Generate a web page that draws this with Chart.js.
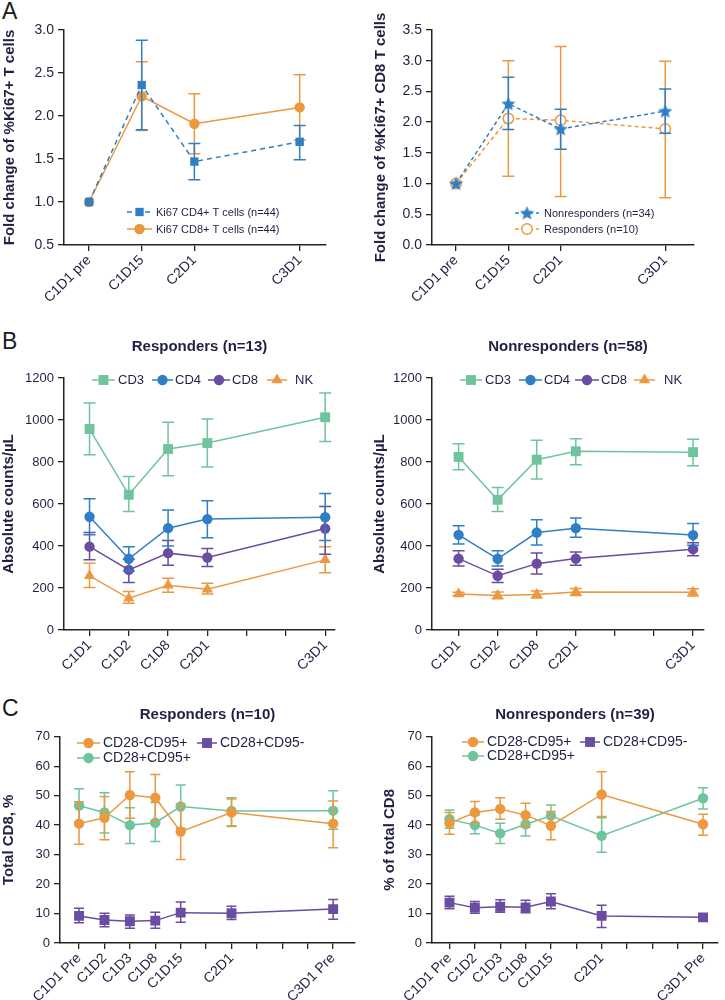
<!DOCTYPE html>
<html><head><meta charset="utf-8">
<script src="https://cdn.jsdelivr.net/npm/chart.js@4.4.1/dist/chart.umd.min.js"></script>
<style>
html,body{margin:0;padding:0;background:#fff;}
#wrap{position:relative;width:725px;height:1000px;overflow:hidden;font-family:'Liberation Sans',Arial,Helvetica,sans-serif;}
#wrap canvas{position:absolute;}
.pl{position:absolute;font-size:23px;line-height:1;color:#1a1a1a;}
</style></head><body>
<div id="wrap">
<div class="pl" style="left:2px;top:0px">A</div>
<div class="pl" style="left:2px;top:330px">B</div>
<div class="pl" style="left:2px;top:697px">C</div>
<canvas id="cA1" width="362" height="320" style="left:0;top:0"></canvas>
<canvas id="cA2" width="363" height="320" style="left:362px;top:0"></canvas>
<canvas id="cB1" width="362" height="370" style="left:0;top:320px"></canvas>
<canvas id="cB2" width="363" height="370" style="left:362px;top:320px"></canvas>
<canvas id="cC1" width="362" height="310" style="left:0;top:690px"></canvas>
<canvas id="cC2" width="363" height="310" style="left:362px;top:690px"></canvas>
</div>
<script>
// ---------------- DATA ----------------
// Panel A (fold change of %Ki67+)
const timeA = [0, 1, 2, 4];
const labelsA = ['C1D1 pre', 'C1D15', 'C2D1', 'C3D1'];
const ticksA = [0, 1, 2, 4];
const ki67CD4 = [1.00, 2.36, 1.47, 1.70];
const ki67CD4Lo = [1.00, 1.84, 1.26, 1.49];
const ki67CD4Hi = [1.00, 2.88, 1.68, 1.89];
const ki67CD8 = [1.00, 2.23, 1.91, 2.10];
const ki67CD8Lo = [1.00, 1.83, 1.56, 1.72];
const ki67CD8Hi = [1.00, 2.63, 2.26, 2.48];
const ki67NonResp = [1.00, 2.30, 1.89, 2.18];
const ki67NonRespLo = [1.00, 1.88, 1.56, 1.82];
const ki67NonRespHi = [1.00, 2.73, 2.21, 2.54];
const ki67Resp = [1.00, 2.06, 2.03, 1.89];
const ki67RespLo = [1.00, 1.12, 0.79, 0.77];
const ki67RespHi = [1.00, 3.00, 3.23, 2.99];

// Panel B (absolute counts/uL)
const timeB = [0, 1, 2, 3, 6];
const labelsB = ['C1D1', 'C1D2', 'C1D8', 'C2D1', 'C3D1'];
const ticksB = [0, 1, 2, 3, 4, 5, 6];
const cd3R = [957, 644, 862, 890, 1013];
const cd3RLo = [835, 564, 735, 776, 898];
const cd3RHi = [1081, 731, 989, 1005, 1129];
const cd4R = [539, 339, 485, 528, 537];
const cd4RLo = [453, 281, 400, 439, 426];
const cd4RHi = [625, 397, 572, 615, 650];
const cd8R = [397, 286, 366, 345, 483];
const cd8RLo = [334, 226, 308, 302, 361];
const cd8RHi = [464, 337, 426, 388, 588];
const nkR = [258, 151, 213, 194, 334];
const nkRLo = [202, 127, 180, 172, 273];
const nkRHi = [318, 183, 246, 223, 397];
const cd3N = [824, 620, 811, 851, 847];
const cd3NLo = [763, 564, 719, 787, 782];
const cd3NHi = [887, 679, 903, 911, 908];
const cd4N = [453, 339, 464, 485, 452];
const cd4NLo = [410, 305, 405, 442, 404];
const cd4NHi = [496, 377, 525, 533, 507];
const cd8N = [340, 258, 316, 340, 385];
const cd8NLo = [305, 226, 267, 308, 353];
const cd8NHi = [377, 289, 367, 372, 416];
const nkN = [172, 164, 169, 181, 180];
const nkNLo = [164, 149, 152, 164, 162];
const nkNHi = [180, 181, 186, 198, 197];

// Panel C (% of total CD8)
const timeC = [0, 1, 2, 3, 4, 6, 10];
const labelsC = ['C1D1 Pre', 'C1D2', 'C1D3', 'C1D8', 'C1D15', 'C2D1', 'C3D1 Pre'];
const ticksC = [0, 1, 2, 3, 4, 5, 6, 7, 8, 9, 10];
const negPosR = [40.5, 42.5, 50.2, 49.3, 37.8, 44.3, 40.5];
const negPosRLo = [33.5, 35.0, 42.3, 41.5, 28.3, 39.8, 32.3];
const negPosRHi = [47.9, 49.7, 58.1, 57.2, 47.2, 48.9, 48.2];
const posPosR = [46.6, 44.3, 40.0, 40.8, 46.3, 44.8, 44.9];
const posPosRLo = [40.9, 37.3, 33.8, 34.4, 38.9, 39.5, 38.6];
const posPosRHi = [52.3, 51.0, 45.9, 47.7, 53.6, 49.3, 51.7];
const posNegR = [9.2, 7.8, 7.4, 7.6, 10.3, 10.1, 11.5];
const posNegRLo = [6.9, 5.5, 5.0, 5.0, 7.0, 8.0, 8.1];
const posNegRHi = [11.8, 10.1, 9.5, 10.4, 13.9, 12.5, 14.8];
const negPosN = [40.6, 44.3, 45.5, 43.4, 39.8, 50.4, 40.3];
const negPosNLo = [36.9, 40.6, 42.0, 39.3, 35.0, 42.9, 36.6];
const negPosNHi = [44.3, 48.0, 49.3, 47.4, 44.6, 58.1, 43.7];
const posPosN = [42.0, 40.0, 37.2, 40.3, 43.2, 36.4, 49.1];
const posPosNLo = [38.9, 37.1, 33.8, 36.3, 39.6, 30.8, 45.5];
const posPosNHi = [45.1, 43.4, 40.6, 43.6, 46.8, 42.5, 52.7];
const posNegN = [13.7, 12.0, 12.3, 12.1, 14.1, 9.2, 8.7];
const posNegNLo = [11.6, 10.1, 10.4, 10.3, 11.6, 5.3, 7.7];
const posNegNHi = [15.9, 14.1, 14.7, 14.5, 16.7, 12.8, 9.7];

// ---------------- STYLE ----------------
const TXT = '#1f2142', AX = '#232323';
const BLUE = '#2f7ec6', ORANGE = '#eb983f', GREEN = '#70c49d', PURPLE = '#6a4ca0';
const FONT = "'Liberation Sans', Arial, Helvetica, sans-serif";
Chart.defaults.font.family = FONT;
Chart.defaults.color = TXT;

function starImage(color, size) {
  const c = document.createElement('canvas');
  c.width = size; c.height = size;
  const g = c.getContext('2d');
  const cx = size / 2, cy = size / 2 + 0.5, R = size / 2, r = R * 0.45;
  g.beginPath();
  for (let i = 0; i < 10; i++) {
    const a = -Math.PI / 2 + i * Math.PI / 5;
    const rr = i % 2 ? r : R;
    g.lineTo(cx + rr * Math.cos(a), cy + rr * Math.sin(a));
  }
  g.closePath(); g.fillStyle = color; g.fill();
  return c;
}
const STAR = starImage(BLUE, 15);

function drawMarker(ctx, style, x, y, r, fill, stroke, bw) {
  ctx.save();
  ctx.fillStyle = fill; ctx.strokeStyle = stroke; ctx.lineWidth = bw;
  if (style && style.getContext) {
    ctx.drawImage(style, x - style.width / 2, y - style.height / 2);
    ctx.restore(); return;
  }
  ctx.beginPath();
  if (style === 'rect') {
    const s = r * Math.SQRT1_2; ctx.rect(x - s, y - s, 2 * s, 2 * s);
  } else if (style === 'triangle') {
    let a = 0;
    ctx.moveTo(x + Math.sin(a) * r, y - Math.cos(a) * r);
    a += 2 * Math.PI / 3; ctx.lineTo(x + Math.sin(a) * r, y - Math.cos(a) * r);
    a += 2 * Math.PI / 3; ctx.lineTo(x + Math.sin(a) * r, y - Math.cos(a) * r);
    ctx.closePath();
  } else {
    ctx.arc(x, y, r, 0, Math.PI * 2);
  }
  ctx.fill();
  if (bw > 0) ctx.stroke();
  ctx.restore();
}

const errorBars = {
  id: 'errorBars',
  beforeDatasetDraw(chart, args, opts) {
    const ds = chart.data.datasets[args.index];
    if (!ds.errLo) return;
    const ctx = chart.ctx, xs = chart.scales.x, ys = chart.scales.y;
    const cap = (opts.cap || 12) / 2;
    ctx.save();
    ctx.setLineDash([]);
    ctx.strokeStyle = ds.borderColor;
    ctx.lineWidth = 1.5;
    ds.data.forEach((p, i) => {
      const lo = ds.errLo[i], hi = ds.errHi[i];
      if (lo == null || hi == null || lo === hi) return;
      const x = xs.getPixelForValue(p.x);
      const y1 = ys.getPixelForValue(lo), y2 = ys.getPixelForValue(hi);
      ctx.beginPath();
      ctx.moveTo(x, y1); ctx.lineTo(x, y2);
      ctx.moveTo(x - cap, y1); ctx.lineTo(x + cap, y1);
      ctx.moveTo(x - cap, y2); ctx.lineTo(x + cap, y2);
      ctx.stroke();
    });
    ctx.restore();
  }
};

function legendPlugin(items, fontSize) {
  return {
    id: 'markLegend',
    afterDraw(chart) {
      const ctx = chart.ctx;
      items.forEach(it => {
        const ds = chart.data.datasets[it.ds];
        ctx.save();
        ctx.strokeStyle = ds.borderColor; ctx.lineWidth = ds.borderWidth;
        ctx.setLineDash(ds.borderDash || []);
        ctx.beginPath(); ctx.moveTo(it.x, it.y); ctx.lineTo(it.x + it.len, it.y); ctx.stroke();
        ctx.setLineDash([]);
        drawMarker(ctx, ds.pointStyle, it.x + it.len / 2, it.y, ds.pointRadius,
          ds.pointBackgroundColor || ds.backgroundColor, ds.pointBorderColor || ds.borderColor, ds.pointBorderWidth || 0);
        ctx.fillStyle = TXT; ctx.font = fontSize + 'px ' + FONT;
        ctx.textBaseline = 'middle'; ctx.textAlign = 'left';
        ctx.fillText(ds.label, it.x + it.len + it.gap, it.y + 0.5);
        ctx.restore();
      });
    }
  };
}

function series(label, xs, ys, lo, hi, style) {
  return Object.assign({
    label, data: xs.map((x, i) => ({ x, y: ys[i] })), errLo: lo, errHi: hi,
    tension: 0, borderWidth: 1.5, pointBorderWidth: 0, pointHoverRadius: 0
  }, style);
}

function build(id, o) {
  const axisGrid = { display: true, drawOnChartArea: false, drawTicks: true, tickLength: 6, color: AX, lineWidth: 1.3 };
  const axisBorder = { display: true, color: AX, width: 1.5 };
  return new Chart(document.getElementById(id), {
    type: 'line',
    data: { datasets: o.datasets },
    options: {
      responsive: false, animation: false, events: [],
      layout: { padding: o.padding },
      plugins: {
        legend: { display: false }, tooltip: { enabled: false },
        title: o.title ? { display: true, text: o.title, fullSize: false, color: TXT,
          font: { size: 15, weight: 'bold' }, padding: o.titlePad } : { display: false },
        errorBars: { cap: o.cap }
      },
      scales: {
        x: {
          type: 'linear', min: o.xMin, max: o.xMax,
          afterBuildTicks: s => { s.ticks = o.xTicks.map(v => ({ value: v })); },
          afterFit: s => { s.height = o.xHeight; },
          ticks: { autoSkip: false, minRotation: 45, maxRotation: 45, padding: 1, color: TXT,
            font: { size: 14 },
            callback: v => { const i = o.xPos.indexOf(v); return i >= 0 ? o.xLabels[i] : ''; } },
          grid: axisGrid, border: axisBorder
        },
        y: {
          min: o.yMin, max: o.yMax,
          afterFit: s => { s.width = o.yWidth; },
          ticks: { stepSize: o.yStep, padding: 4, color: TXT, font: { size: o.yFont },
            callback: v => v.toFixed(o.yDec) },
          grid: axisGrid, border: axisBorder,
          title: { display: true, text: o.yTitle, color: TXT, font: { size: 15, weight: 'bold' },
            padding: { top: o.yTitlePad, bottom: 0 } }
        }
      }
    },
    plugins: [errorBars, legendPlugin(o.legend, o.legendFont)]
  });
}

// ---------------- CHARTS ----------------
build('cA1', {
  padding: { left: 0, top: 30, right: 36, bottom: 0 }, yWidth: 64, xHeight: 75, yTitlePad: 1, yFont: 14,
  xMin: -0.476, xMax: 4.5, xTicks: ticksA, xPos: timeA, xLabels: labelsA,
  yMin: 0.5, yMax: 3.0, yStep: 0.5, yDec: 1, yTitle: 'Fold change of %Ki67+ T cells', cap: 12,
  datasets: [
    series('Ki67 CD4+ T cells (n=44)', timeA, ki67CD4, ki67CD4Lo, ki67CD4Hi,
      { borderColor: BLUE, backgroundColor: BLUE, pointStyle: 'rect', pointRadius: 5.9, borderDash: [5, 4] }),
    series('Ki67 CD8+ T cells (n=44)', timeA, ki67CD8, ki67CD8Lo, ki67CD8Hi,
      { borderColor: ORANGE, backgroundColor: ORANGE, pointStyle: 'circle', pointRadius: 5.2 })
  ],
  legend: [{ ds: 0, x: 127, y: 212, len: 25, gap: 4 }, { ds: 1, x: 127, y: 229, len: 25, gap: 4 }],
  legendFont: 11
});

build('cA2', {
  padding: { left: 9, top: 30, right: 31, bottom: 0 }, yWidth: 61, xHeight: 75, yTitlePad: 1, yFont: 14,
  xMin: -0.46, xMax: 4.55, xTicks: ticksA, xPos: timeA, xLabels: labelsA,
  yMin: 0, yMax: 3.5, yStep: 0.5, yDec: 1, yTitle: 'Fold change of %Ki67+ CD8 T cells', cap: 12,
  datasets: [
    series('Nonresponders (n=34)', timeA, ki67NonResp, ki67NonRespLo, ki67NonRespHi,
      { borderColor: BLUE, backgroundColor: BLUE, pointStyle: STAR, pointRadius: 6, borderDash: [4, 3] }),
    series('Responders (n=10)', timeA, ki67Resp, ki67RespLo, ki67RespHi,
      { borderColor: ORANGE, backgroundColor: '#ffffff', pointBackgroundColor: '#ffffff', pointBorderColor: ORANGE,
        pointBorderWidth: 1.5, pointStyle: 'circle', pointRadius: 5.2, borderDash: [4, 3] })
  ],
  legend: [{ ds: 0, x: 153, y: 213, len: 24, gap: 5 }, { ds: 1, x: 153, y: 229, len: 24, gap: 5 }],
  legendFont: 11
});

function bSets(c3, c3l, c3h, c4, c4l, c4h, c8, c8l, c8h, nk, nkl, nkh) {
  return [
    series('CD3', timeB, c3, c3l, c3h, { borderColor: GREEN, backgroundColor: GREEN, pointStyle: 'rect', pointRadius: 7 }),
    series('CD4', timeB, c4, c4l, c4h, { borderColor: BLUE, backgroundColor: BLUE, pointStyle: 'circle', pointRadius: 5.2 }),
    series('CD8', timeB, c8, c8l, c8h, { borderColor: PURPLE, backgroundColor: PURPLE, pointStyle: 'circle', pointRadius: 5.2 }),
    series('NK', timeB, nk, nkl, nkh, { borderColor: ORANGE, backgroundColor: ORANGE, pointStyle: 'triangle', pointRadius: 6.5 })
  ];
}

build('cB1', {
  padding: { left: 0, top: 0, right: 27, bottom: 0 }, yWidth: 64, xHeight: 60, yTitlePad: 0, yFont: 13,
  title: 'Responders (n=13)', titlePad: { top: 18, bottom: 22 },
  xMin: -0.65, xMax: 6.25, xTicks: ticksB, xPos: timeB, xLabels: labelsB,
  yMin: 0, yMax: 1200, yStep: 200, yDec: 0, yTitle: 'Absolute counts/µL', cap: 12,
  datasets: bSets(cd3R, cd3RLo, cd3RHi, cd4R, cd4RLo, cd4RHi, cd8R, cd8RLo, cd8RHi, nkR, nkRLo, nkRHi),
  legend: [{ ds: 0, x: 92, y: 60, len: 23, gap: 3 }, { ds: 1, x: 152, y: 60, len: 21, gap: 2 },
           { ds: 2, x: 208, y: 60, len: 22, gap: 2 }, { ds: 3, x: 267, y: 60, len: 20, gap: 8 }],
  legendFont: 13
});

build('cB2', {
  padding: { left: 9, top: 0, right: 21, bottom: 0 }, yWidth: 61, xHeight: 60, yTitlePad: 0, yFont: 13,
  title: 'Nonresponders (n=58)', titlePad: { top: 18, bottom: 22 },
  xMin: -0.68, xMax: 6.28, xTicks: ticksB, xPos: timeB, xLabels: labelsB,
  yMin: 0, yMax: 1200, yStep: 200, yDec: 0, yTitle: 'Absolute counts/µL', cap: 12,
  datasets: bSets(cd3N, cd3NLo, cd3NHi, cd4N, cd4NLo, cd4NHi, cd8N, cd8NLo, cd8NHi, nkN, nkNLo, nkNHi),
  legend: [{ ds: 0, x: 98, y: 60, len: 22, gap: 3 }, { ds: 1, x: 157, y: 60, len: 23, gap: 2 },
           { ds: 2, x: 213, y: 60, len: 24, gap: 2 }, { ds: 3, x: 272, y: 60, len: 21, gap: 9 }],
  legendFont: 13
});

function cSets(a, al, ah, b, bl, bh, c, cl, ch) {
  return [
    series('CD28-CD95+', timeC, a, al, ah, { borderColor: ORANGE, backgroundColor: ORANGE, pointStyle: 'circle', pointRadius: 5.2 }),
    series('CD28+CD95+', timeC, b, bl, bh, { borderColor: GREEN, backgroundColor: GREEN, pointStyle: 'circle', pointRadius: 5.2 }),
    series('CD28+CD95-', timeC, c, cl, ch, { borderColor: PURPLE, backgroundColor: PURPLE, pointStyle: 'rect', pointRadius: 7 })
  ];
}

build('cC1', {
  padding: { left: 0, top: 0, right: 2, bottom: 0 }, yWidth: 60, xHeight: 57, yTitlePad: 0, yFont: 13,
  title: 'Responders (n=10)', titlePad: { top: 16, bottom: 12.7 },
  xMin: -0.75, xMax: 10.86, xTicks: ticksC, xPos: timeC, xLabels: labelsC,
  yMin: 0, yMax: 70, yStep: 10, yDec: 0, yTitle: 'Total CD8, %', cap: 10,
  datasets: cSets(negPosR, negPosRLo, negPosRHi, posPosR, posPosRLo, posPosRHi, posNegR, posNegRLo, posNegRHi),
  legend: [{ ds: 0, x: 77, y: 53, len: 23, gap: 3 }, { ds: 2, x: 197, y: 53, len: 20, gap: 3 },
           { ds: 1, x: 77, y: 68, len: 23, gap: 3 }],
  legendFont: 14
});

build('cC2', {
  padding: { left: 18, top: 0, right: 2, bottom: 0 }, yWidth: 52, xHeight: 57, yTitlePad: 1, yFont: 13,
  title: 'Nonresponders (n=39)', titlePad: { top: 16, bottom: 12.7 },
  xMin: -0.69, xMax: 10.59, xTicks: ticksC, xPos: timeC, xLabels: labelsC,
  yMin: 0, yMax: 70, yStep: 10, yDec: 0, yTitle: '% of total CD8', cap: 10,
  datasets: cSets(negPosN, negPosNLo, negPosNHi, posPosN, posPosNLo, posPosNHi, posNegN, posNegNLo, posNegNHi),
  legend: [{ ds: 0, x: 100, y: 52, len: 22, gap: 3 }, { ds: 2, x: 218, y: 52, len: 20, gap: 3 },
           { ds: 1, x: 100, y: 66, len: 22, gap: 3 }],
  legendFont: 14
});
</script>
</body></html>
